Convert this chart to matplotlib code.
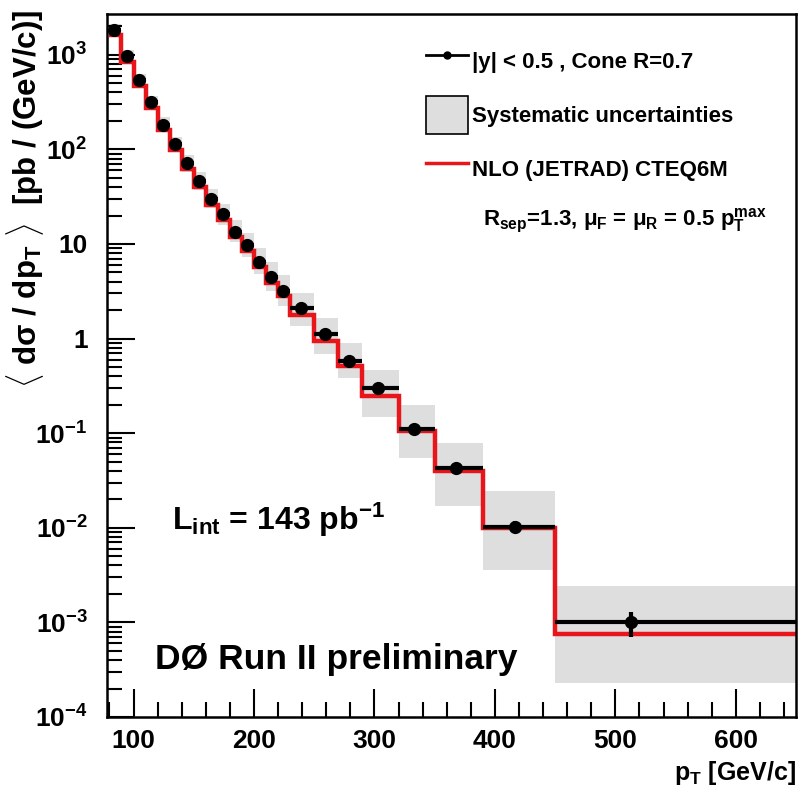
import numpy as np
import matplotlib
matplotlib.use("Agg")
import matplotlib.pyplot as plt
from matplotlib.lines import Line2D
from matplotlib.patches import Patch
from matplotlib.ticker import FixedLocator, FixedFormatter, MultipleLocator, NullFormatter

# font setup, bold Arial-like as in the ROOT original
FONTS = ['Liberation Sans', 'DejaVu Sans']
plt.rcParams['font.family'] = FONTS
plt.rcParams['font.weight'] = 'bold'
plt.rcParams['axes.labelweight'] = 'bold'
plt.rcParams['mathtext.fontset'] = 'custom'
plt.rcParams['mathtext.rm'] = 'Liberation Sans:bold'
plt.rcParams['mathtext.it'] = 'Liberation Sans:bold'
plt.rcParams['mathtext.bf'] = 'Liberation Sans:bold'

# bin edges in pT [GeV/c]
edges = [80, 90, 100, 110, 120, 130, 140, 150, 160, 170, 180, 190, 200, 210,
         220, 230, 250, 270, 290, 320, 350, 390, 450, 650]
# data points
pt_pts = [84, 94.5, 104.5, 114.5, 124.5, 134.5, 144.5, 154.5, 164.5, 174.5,
          184.5, 194.5, 204.5, 214.5, 224.5, 239, 259, 279, 303, 333, 368, 417, 513]
xsec = [1820, 960, 540, 314, 183, 113, 71, 46, 30, 20.5, 13.5, 9.7, 6.5, 4.5,
        3.2, 2.1, 1.13, 0.58, 0.30, 0.11, 0.043, 0.0103, 0.0010]
stat_err = [5, 4, 3, 2, 1.5, 1, 0.8, 0.6, 0.5, 0.4, 0.3, 0.25, 0.2, 0.16,
            0.13, 0.08, 0.05, 0.035, 0.02, 0.01, 0.005, 0.0015, 0.0003]
# systematic band (low / high edge per bin)
syst_lo = [1560, 820, 460, 266, 154, 94, 58, 37, 24, 16, 10.4, 7.3, 4.8, 3.2,
           2.2, 1.37, 0.69, 0.38, 0.15, 0.055, 0.017, 0.0036, 0.00023]
syst_hi = [2100, 1110, 630, 370, 218, 136, 87, 57, 38, 26.5, 17.8, 13.2, 9.0,
           6.5, 4.7, 3.0, 1.67, 0.89, 0.46, 0.20, 0.079, 0.0246, 0.00245]
# NLO JETRAD prediction
nlo = [1600, 830, 470, 272, 160, 98, 62, 40, 26, 17.8, 11.8, 8.4, 5.7, 3.9,
       2.8, 1.77, 0.95, 0.51, 0.25, 0.105, 0.040, 0.0100, 0.00076]

ytick_vals = [1e-4, 1e-3, 1e-2, 1e-1, 1, 10, 1e2, 1e3]
ytick_labels = [r'$10^{-4}$', r'$10^{-3}$', r'$10^{-2}$', r'$10^{-1}$', '1', '10',
                r'$10^{2}$', r'$10^{3}$']
xtick_vals = [100, 200, 300, 400, 500, 600]

edges_a = np.array(edges)
lefts = edges_a[:-1]
widths = np.diff(edges_a)

fig = plt.figure(figsize=(8.04, 7.94), dpi=100)
ax = fig.add_axes([0.1331, 0.0970, 0.857, 0.8854])

ax.bar(lefts, np.array(syst_hi) - np.array(syst_lo), bottom=syst_lo, width=widths,
       align='edge', color='#dedede', lw=0, zorder=1)
ax.stairs(nlo, edges, color='#e8161b', lw=3.2, zorder=2, baseline=None)
xerr = [np.array(pt_pts) - lefts, edges_a[1:] - np.array(pt_pts)]
ax.errorbar(pt_pts, xsec, xerr=xerr, yerr=stat_err, fmt='o', color='black',
            ms=8.5, lw=3, capsize=0, zorder=3)

ax.set_yscale('log')
ax.set_xlim(78, 650)
ax.set_ylim(1e-4, 2.7e3)

ax.yaxis.set_major_locator(FixedLocator(ytick_vals))
ax.yaxis.set_major_formatter(FixedFormatter(ytick_labels))
ax.xaxis.set_major_locator(FixedLocator(xtick_vals))
ax.xaxis.set_minor_locator(MultipleLocator(20))
ax.tick_params(axis='both', which='major', direction='in', length=20, width=1.5,
               labelsize=19)
ax.tick_params(axis='both', which='minor', direction='in', length=11, width=1.5)
ax.tick_params(axis='y', which='major', pad=14)
ax.tick_params(axis='x', which='major', pad=9)
ax.yaxis.set_minor_formatter(NullFormatter())
for s in ax.spines.values():
    s.set_linewidth(1.8)

ax.set_ylabel(r'$\langle$ d$\sigma$ / dp$_{T}$ $\rangle$  [pb / (GeV/c)]',
              fontsize=22.5, loc='top')
ax.yaxis.set_label_coords(-0.089, 1.006)
ax.set_xlabel(r'p$_{T}$ [GeV/c]', fontsize=18, loc='right', labelpad=4)

handles = [Line2D([], [], color='black', lw=2, marker='o', ms=5),
           Patch(facecolor='#dedede', edgecolor='black', lw=1.2),
           Line2D([], [], color='#e8161b', lw=2.5)]
labels = ['|y| < 0.5 , Cone R=0.7', 'Systematic uncertainties', 'NLO (JETRAD) CTEQ6M']
ax.legend(handles, labels, loc='upper left', bbox_to_anchor=(0.45, 0.972),
          frameon=False, fontsize=16, handlelength=1.9, handleheight=2.2,
          handletextpad=0.15, labelspacing=0.75, borderaxespad=0)
ax.text(0.545, 0.705, r'R$_{sep}$=1.3, $\mu_{F}$ = $\mu_{R}$ = 0.5 p$_{T}^{max}$',
        transform=ax.transAxes, fontsize=16, va='center')

ax.text(0.095, 0.28, r'L$_{int}$ = 143 pb$^{-1}$', transform=ax.transAxes,
        fontsize=23, va='center')
ax.text(0.07, 0.082, 'DØ Run II preliminary', transform=ax.transAxes,
        fontsize=25.5, va='center')

fig.savefig('out.png', dpi=100)
